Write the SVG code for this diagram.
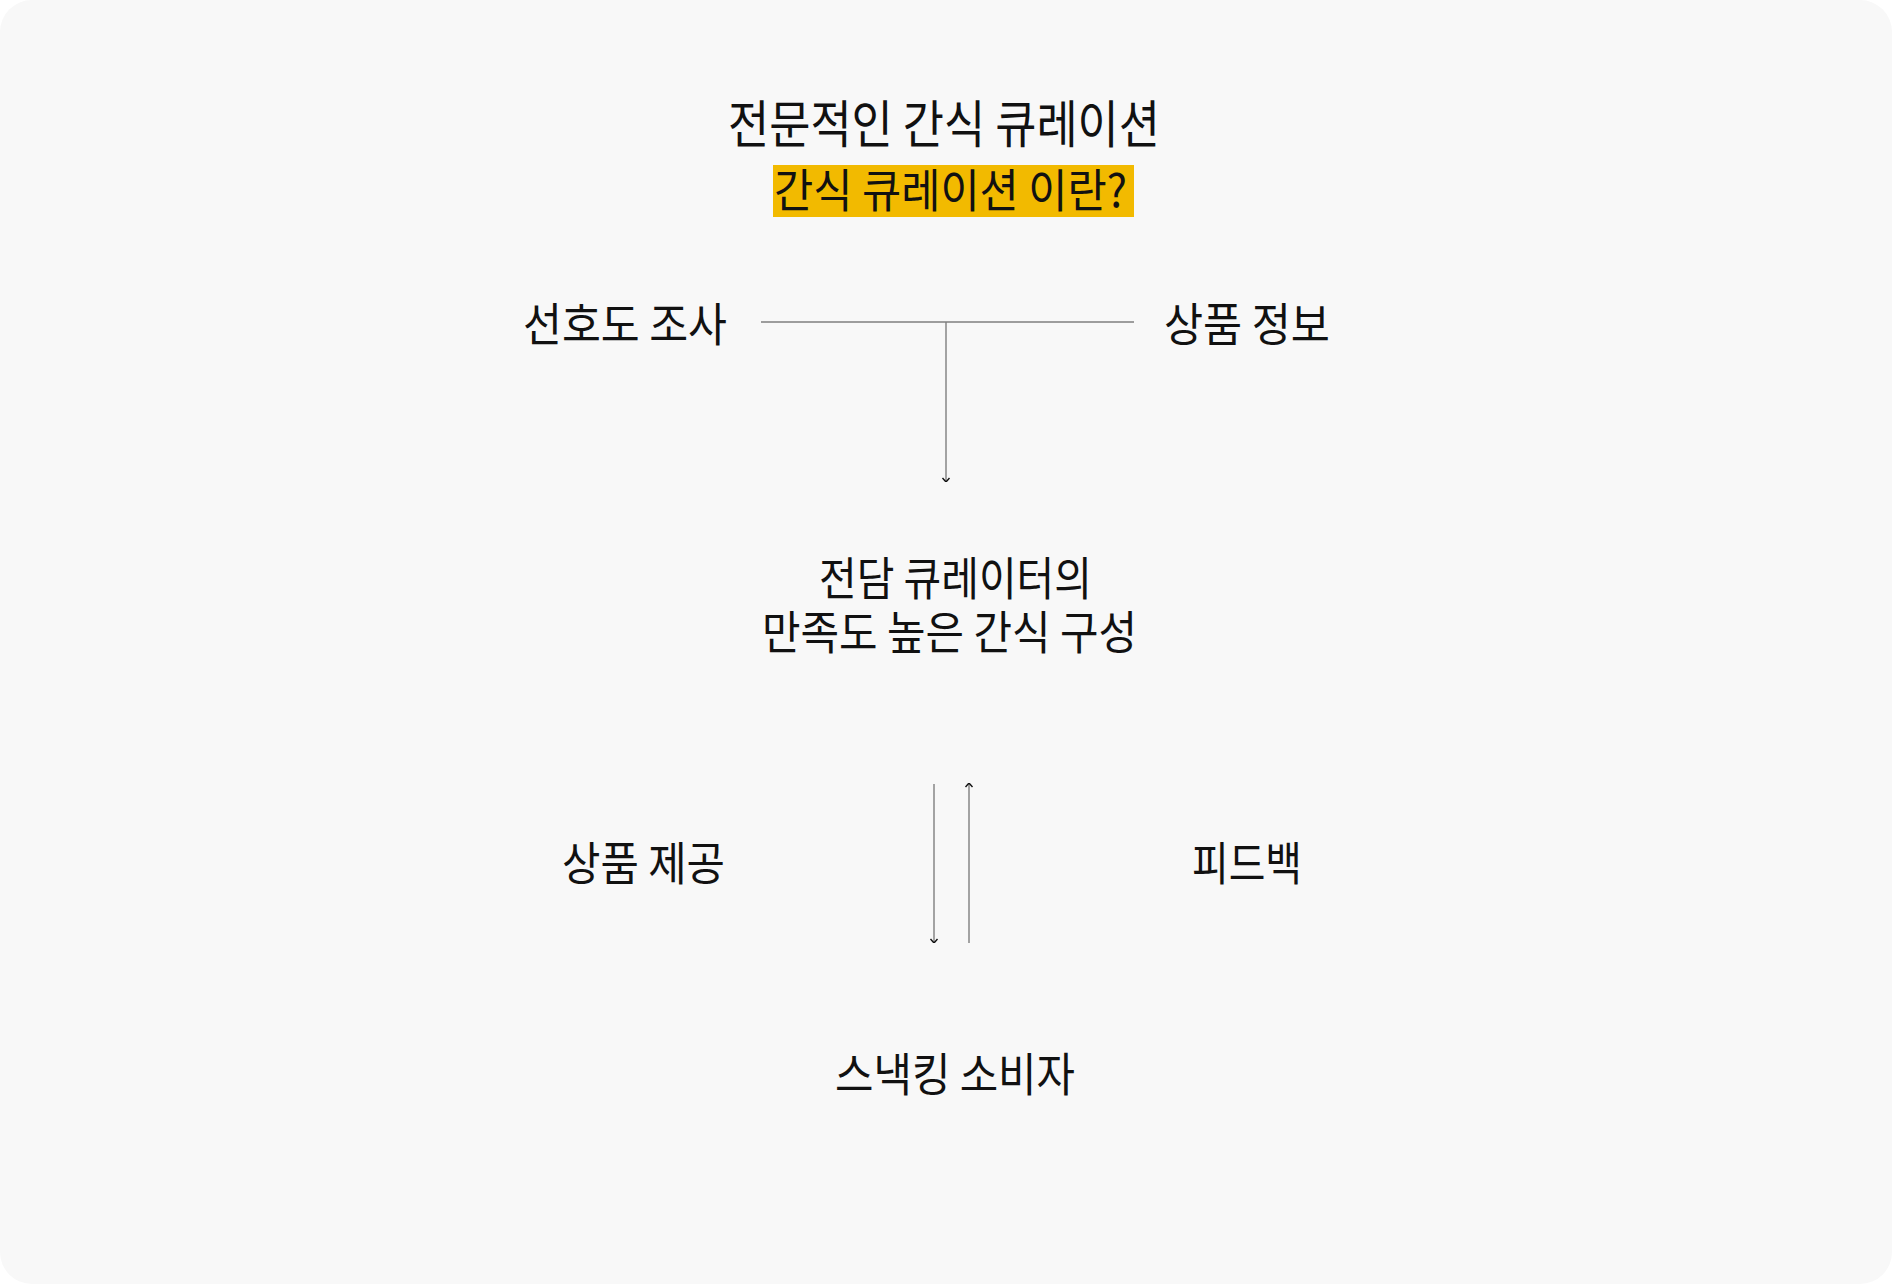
<svg xmlns="http://www.w3.org/2000/svg" width="1892" height="1284" viewBox="0 0 1892 1284">
  <style>
    .t { font-family: "Noto Sans CJK KR", "Noto Sans", sans-serif; fill: #111111; text-anchor: middle; font-weight: 400; }
    .n { font-size: 46px; }
    .title { font-size: 51px; }
    .conn { stroke: #7f7f7f; stroke-width: 1.4; fill: none; }
  </style>
  <defs>
    <marker id="arr" viewBox="0 0 10 10" refX="10" refY="5" markerWidth="10" markerHeight="10" markerUnits="userSpaceOnUse" orient="auto">
      <path d="M6,1.5 L10,5 L6,8.5" fill="none" stroke="#111111" stroke-width="1.4"/>
    </marker>
  </defs>
  <rect x="0" y="0" width="1892" height="1284" fill="#ffffff"/>
  <rect x="0" y="0" width="1892" height="1284" rx="32" ry="32" fill="#f8f8f8"/>

  <g id="title">
    <text class="t title" x="944" y="143" textLength="432" lengthAdjust="spacingAndGlyphs">전문적인 간식 큐레이션</text>
  </g>
  <g id="subtitle">
    <rect x="773" y="165" width="361" height="52" fill="#f2ba00"/>
    <text class="t n" x="950.5" y="207" textLength="353" lengthAdjust="spacingAndGlyphs">간식 큐레이션 이란?</text>
  </g>
  <g id="survey">
    <text class="t n" x="625" y="341" textLength="204" lengthAdjust="spacingAndGlyphs">선호도 조사</text>
  </g>
  <g id="product-info">
    <text class="t n" x="1247" y="341" textLength="166" lengthAdjust="spacingAndGlyphs">상품 정보</text>
  </g>
  <g id="curator">
    <text class="t n"><tspan x="955.5" y="595" textLength="273" lengthAdjust="spacingAndGlyphs">전담 큐레이터의</tspan><tspan x="949.5" y="649" textLength="375" lengthAdjust="spacingAndGlyphs">만족도 높은 간식 구성</tspan></text>
  </g>
  <g id="provide">
    <text class="t n" x="643.5" y="880" textLength="163" lengthAdjust="spacingAndGlyphs">상품 제공</text>
  </g>
  <g id="feedback">
    <text class="t n" x="1247" y="880" textLength="110" lengthAdjust="spacingAndGlyphs">피드백</text>
  </g>
  <g id="consumer">
    <text class="t n" x="955" y="1091" textLength="240" lengthAdjust="spacingAndGlyphs">스낵킹 소비자</text>
  </g>

  <g id="connectors">
    <line class="conn" x1="761" y1="322" x2="1134" y2="322"/>
    <line class="conn" x1="946" y1="322" x2="946" y2="482" marker-end="url(#arr)"/>
    <line class="conn" x1="934" y1="784" x2="934" y2="943" marker-end="url(#arr)"/>
    <line class="conn" x1="969" y1="943" x2="969" y2="783" marker-end="url(#arr)"/>
  </g>
</svg>
